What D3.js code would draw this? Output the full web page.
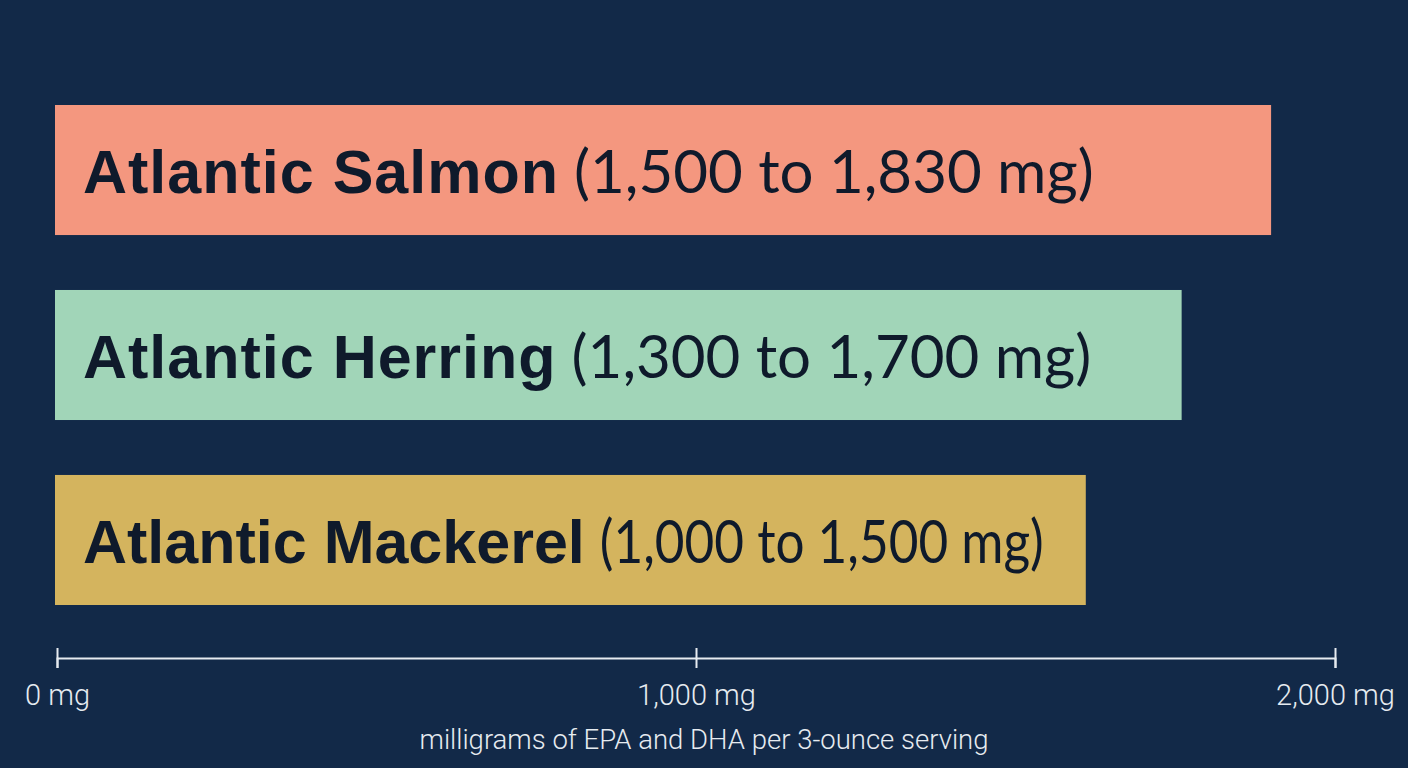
<!DOCTYPE html>
<html>
<head>
<meta charset="utf-8">
<script src="https://cdn.jsdelivr.net/npm/d3@7"></script>
<style>
  html, body { margin: 0; padding: 0; background: #122948; }
  svg { display: block; }
</style>
</head>
<body>
<div id="chart"></div>
<script>
const fish = ["Atlantic Salmon", "Atlantic Herring", "Atlantic Mackerel"];
const ranges = ["(1,500 to 1,830 mg)", "(1,300 to 1,700 mg)", "(1,000 to 1,500 mg)"];
const barValues = [1900, 1760, 1610];
const barColors = ["#f4977f", "#a1d5b8", "#d4b45e"];
const tickValues = [0, 1000, 2000];
const axisTitle = "milligrams of EPA and DHA per 3-ounce serving";

const width = 1408;
const height = 768;

const svg = d3
  .select("#chart")
  .append("svg")
  .attr("width", width)
  .attr("height", height);

svg.append("rect").attr("width", width).attr("height", height).attr("fill", "#122948");

const x = d3.scaleLinear().domain([0, 2000]).range([57, 1335]);
const y = d3.scaleBand().domain(fish).range([105, 605]).paddingInner(0.297);

const data = fish.map((name, i) => ({
  name,
  range: ranges[i],
  value: barValues[i],
  color: barColors[i],
}));

const rows = svg
  .selectAll("g.row")
  .data(data)
  .enter()
  .append("g")
  .attr("class", "row");

rows
  .append("rect")
  .attr("x", x(0) - 2)
  .attr("y", (d) => y(d.name))
  .attr("width", (d) => x(d.value) - x(0) + 2)
  .attr("height", y.bandwidth())
  .attr("fill", (d) => d.color);

rows.each(function (d) {
  const g = d3.select(this);
  const baseY = y(d.name) + y.bandwidth() / 2 + 23;

  const nameText = g
    .append("text")
    .attr("x", x(0) + 26)
    .attr("y", baseY)
    .attr("fill", "#0f1a2b")
    .attr("font-family", "'Liberation Sans', Arial, sans-serif")
    .attr("font-weight", "bold")
    .attr("font-size", "61px")
    .attr("letter-spacing", d.name.length < 17 ? "1px" : "0px")
    .text(d.name);

  const nameEnd = x(0) + 26 + nameText.node().getComputedTextLength();
  const rangeText = g
    .append("text")
    .attr("x", nameEnd + 15)
    .attr("y", baseY)
    .attr("fill", "#0f1a2b")
    .attr("font-family", "Lato, 'Open Sans', sans-serif")
    .attr("font-size", "60px")
    .text(d.range);

  // squeeze the range so it stays inside the bar
  const room = x(d.value) - 42 - (nameEnd + 15);
  const natural = rangeText.node().getComputedTextLength();
  if (natural > room) {
    rangeText.attr("textLength", room).attr("lengthAdjust", "spacingAndGlyphs");
  }
});

// axis
const axis = svg
  .append("g")
  .attr("transform", "translate(0,658)")
  .call(
    d3
      .axisBottom(x)
      .tickValues(tickValues)
      .tickSizeOuter(0)
      .tickSize(10)
      .tickFormat((d) => d3.format(",")(d) + " mg")
  );

axis.select(".domain").attr("stroke", "#e6ebf0").attr("stroke-width", 2);
axis
  .selectAll(".tick line")
  .attr("stroke", "#e6ebf0")
  .attr("stroke-width", 2)
  .attr("y1", -10)
  .attr("y2", 10);
axis
  .selectAll(".tick text")
  .attr("y", 47)
  .attr("dy", 0)
  .attr("fill", "#e6ebf0")
  .attr("font-family", "Roboto, 'Open Sans', sans-serif")
  .attr("font-weight", 300)
  .attr("font-size", "29px");

svg
  .append("text")
  .attr("x", 704)
  .attr("y", 749)
  .attr("text-anchor", "middle")
  .attr("fill", "#e6ebf0")
  .attr("font-family", "Roboto, 'Open Sans', sans-serif")
  .attr("font-weight", 300)
  .attr("font-size", "27.5px")
  .text(axisTitle);
</script>
</body>
</html>
